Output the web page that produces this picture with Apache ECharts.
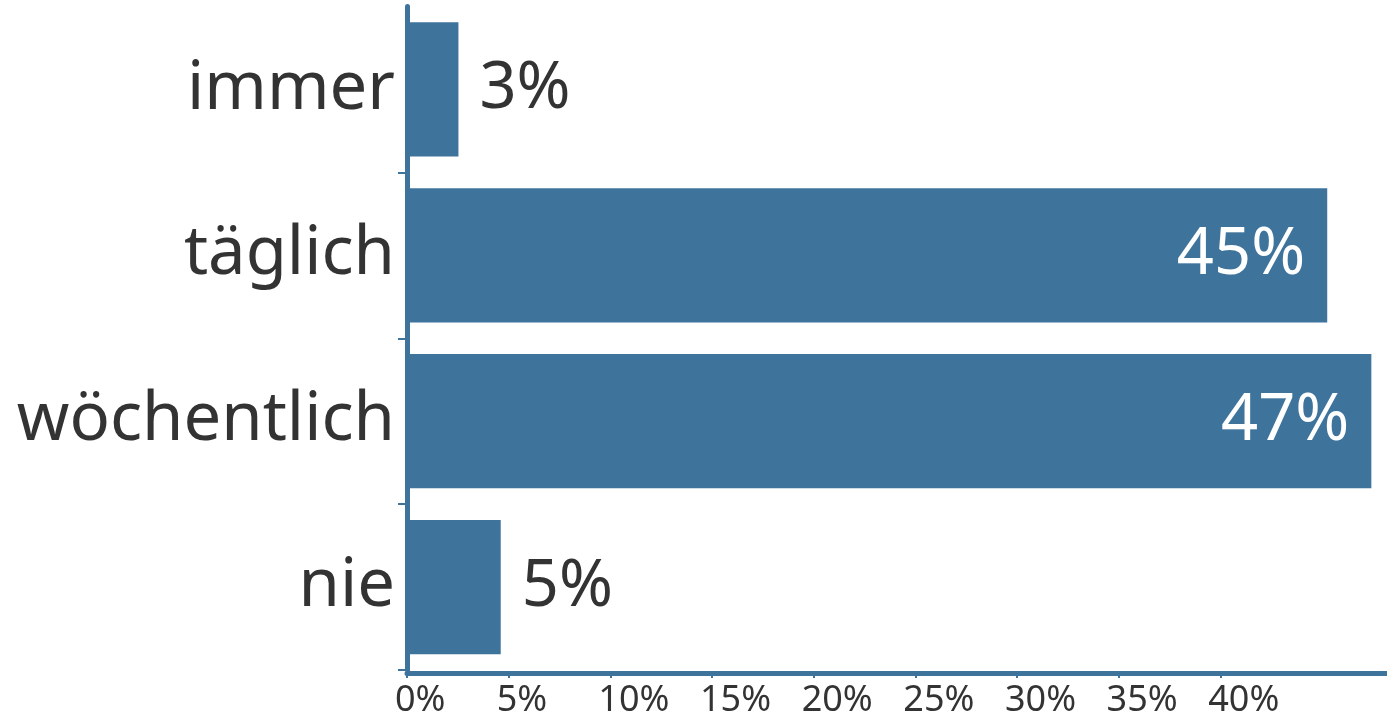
<!DOCTYPE html>
<html>
<head>
<meta charset="utf-8">
<script src="https://cdn.jsdelivr.net/npm/echarts@6/dist/echarts.min.js"></script>
<style>html,body{margin:0;padding:0;background:#fff}#c{width:1387px;height:719px}</style>
</head>
<body>
<div id="c"></div>
<script>
const categories = ['immer', 'täglich', 'wöchentlich', 'nie'];
const values = [2.53, 45.26, 47.43, 4.61];
const tickValues = [0, 5, 10, 15, 20, 25, 30, 35, 40];

const barColor = '#3e739c';
const textColor = '#333333';
const fontFamily = '"Noto Sans", sans-serif';
const axisMax = 48.2;

const chart = echarts.init(document.getElementById('c'), null, {renderer: 'canvas'});
const data = values.map(v => {
  const inside = v > 20;
  return {
    value: v,
    label: {
      position: inside ? 'insideRight' : 'right',
      color: inside ? '#ffffff' : textColor,
      distance: inside ? 22 : 21
    }
  };
});

chart.setOption({
  animation: false,
  grid: [
    {left: 407, right: 0, top: 6.5, bottom: 49, containLabel: false},
    {left: 395, right: 12, top: 6.5, bottom: 49, containLabel: false}
  ],
  xAxis: [{
    type: 'value',
    gridIndex: 0,
    min: 0,
    max: axisMax,
    interval: 5,
    offset: 3,
    splitLine: {show: false},
    axisLine: {show: true, lineStyle: {color: barColor, width: 5}},
    axisTick: {show: true, customValues: tickValues, length: 5, lineStyle: {color: barColor, width: 2}},
    axisLabel: {show: false}
  }, {
    type: 'value',
    gridIndex: 1,
    min: 0,
    max: axisMax,
    interval: 5,
    offset: 3,
    splitLine: {show: false},
    axisLine: {show: false},
    axisTick: {show: false},
    axisLabel: {
      customValues: tickValues,
      formatter: v => v + '%',
      align: 'left',
      color: textColor,
      fontFamily: fontFamily,
      fontSize: 36,
      margin: 12
    }
  }],
  yAxis: [{
    type: 'category',
    gridIndex: 0,
    data: categories,
    inverse: true,
    offset: 4,
    axisLine: {show: true, lineStyle: {color: barColor, width: 5}},
    axisTick: {show: true, length: 9, interval: (i) => i !== 0, lineStyle: {color: barColor, width: 2}},
    axisLabel: {
      color: textColor,
      fontFamily: fontFamily,
      fontSize: 67,
      margin: 8,
      padding: [6, 0, 0, 0]
    }
  }, {
    type: 'category',
    gridIndex: 1,
    data: categories,
    inverse: true,
    show: false
  }],
  series: [{
    type: 'bar',
    xAxisIndex: 0,
    yAxisIndex: 0,
    data: data,
    barCategoryGap: '19%',
    itemStyle: {color: barColor},
    label: {
      show: true,
      formatter: p => Math.round(p.value) + '%',
      fontFamily: fontFamily,
      fontSize: 65,
      padding: [4, 0, 0, 0]
    }
  }]
});
</script>
</body>
</html>
